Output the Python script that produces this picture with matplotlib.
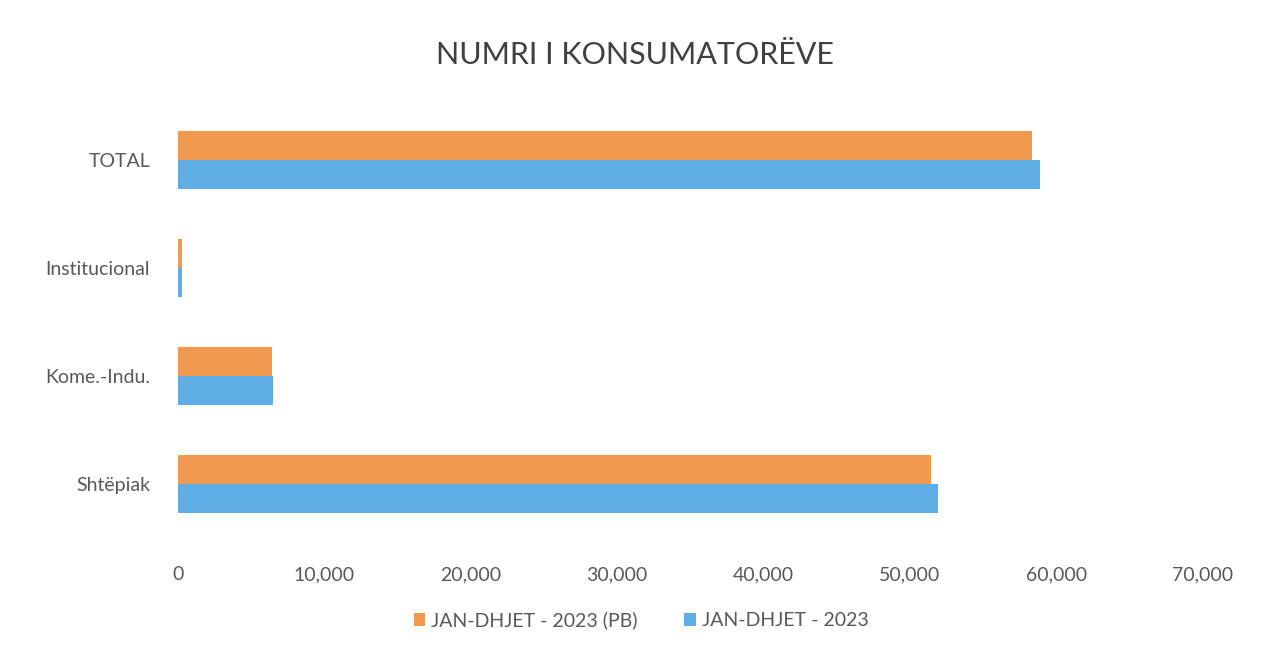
import matplotlib.pyplot as plt
import numpy as np

categories = ["Shtëpiak", "Kome.-Indu.", "Institucional", "TOTAL"]
pb_2023 = [51450, 6420, 300, 58370]
real_2023 = [51950, 6480, 320, 58900]
series_names = ["JAN-DHJET - 2023 (PB)", "JAN-DHJET - 2023"]
xticks = [0, 10000, 20000, 30000, 40000, 50000, 60000, 70000]

plt.rcParams['font.family'] = ['Lato', 'DejaVu Sans']

fig = plt.figure(figsize=(12.7, 6.5), dpi=100)
ax = fig.add_axes([0.140, 0.172, 0.807, 0.665])

y = np.arange(len(categories))
h = 0.27
orange = "#F0994F"
blue = "#5EAEE5"
ax.barh(y + h / 2, pb_2023, height=h, color=orange, label=series_names[0])
ax.barh(y - h / 2, real_2023, height=h, color=blue, label=series_names[1])

ax.set_xlim(0, 70000)
ax.set_ylim(-0.5, len(categories) - 0.5)
ax.set_xticks(xticks)
ax.set_xticklabels([f"{v:,}" for v in xticks])
ax.set_yticks(y)
ax.set_yticklabels(categories)
ax.tick_params(axis='both', length=0, labelsize=14, colors="#595959")
ax.tick_params(axis='x', pad=20)
ax.tick_params(axis='y', pad=20)
for s in ax.spines.values():
    s.set_visible(False)

fig.text(0.5, 0.915, "NUMRI I KONSUMATORËVE", ha='center', va='center',
         fontsize=22, color="#404040")

ax.legend(loc='center', bbox_to_anchor=(0.452, -0.19), ncol=2, frameon=False,
          fontsize=14, labelcolor="#595959", handlelength=0.6, handleheight=0.6,
          handletextpad=0.3, columnspacing=2.4)

fig.savefig("out.png", dpi=100, facecolor="white")
